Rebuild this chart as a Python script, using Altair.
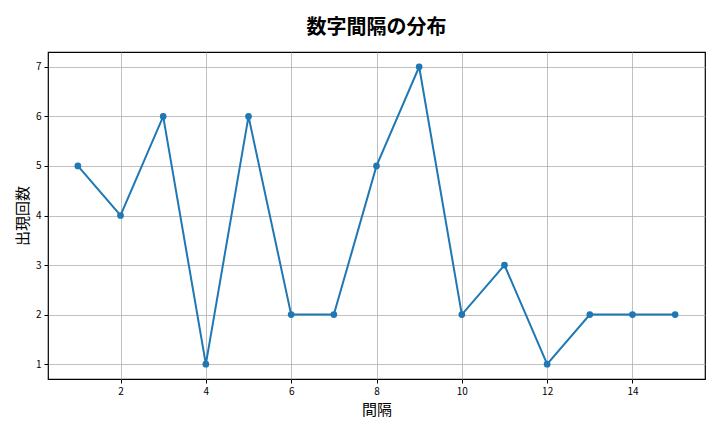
import altair as alt
import pandas as pd

intervals = list(range(1, 16))
counts = [5, 4, 6, 1, 6, 2, 2, 5, 7, 2, 3, 1, 2, 2, 2]

df = pd.DataFrame({"interval": intervals, "count": counts})

font = "Noto Sans CJK JP"

base = alt.Chart(df).encode(
    x=alt.X("interval:Q", scale=alt.Scale(domain=[0.3, 15.7], nice=False, zero=False),
            axis=alt.Axis(values=[2, 4, 6, 8, 10, 12, 14], title="間隔", format="d")),
    y=alt.Y("count:Q", scale=alt.Scale(domain=[0.7, 7.3], nice=False, zero=False),
            axis=alt.Axis(values=[1, 2, 3, 4, 5, 6, 7], title="出現回数", format="d")),
)

line = base.mark_line(color="#1f77b4", strokeWidth=2)
pts = base.mark_point(color="#1f77b4", filled=True, opacity=1, size=45)

chart = (line + pts).properties(
    width=657, height=327,
    title=alt.TitleParams("数字間隔の分布", fontSize=20, font=font, fontWeight="bold",
                          anchor="middle", color="#000", offset=14),
    autosize=alt.AutoSizeParams(type="none"),
    padding={"left": 40, "top": 44, "right": 7, "bottom": 45},
).configure_view(stroke="#000", strokeWidth=1.2).configure_axis(
    labelFont=font, titleFont=font, labelFontSize=10, titleFontSize=15,
    titleFontWeight="normal", labelColor="#000", titleColor="#000",
    grid=True, gridColor="#b0b0b0", gridWidth=0.8,
    domain=False, tickColor="#000", tickSize=4, labelPadding=3,
).configure_axisX(titlePadding=6).configure_axisY(titlePadding=5)

chart.save("out.html", embed_options={"renderer": "svg", "actions": False})
